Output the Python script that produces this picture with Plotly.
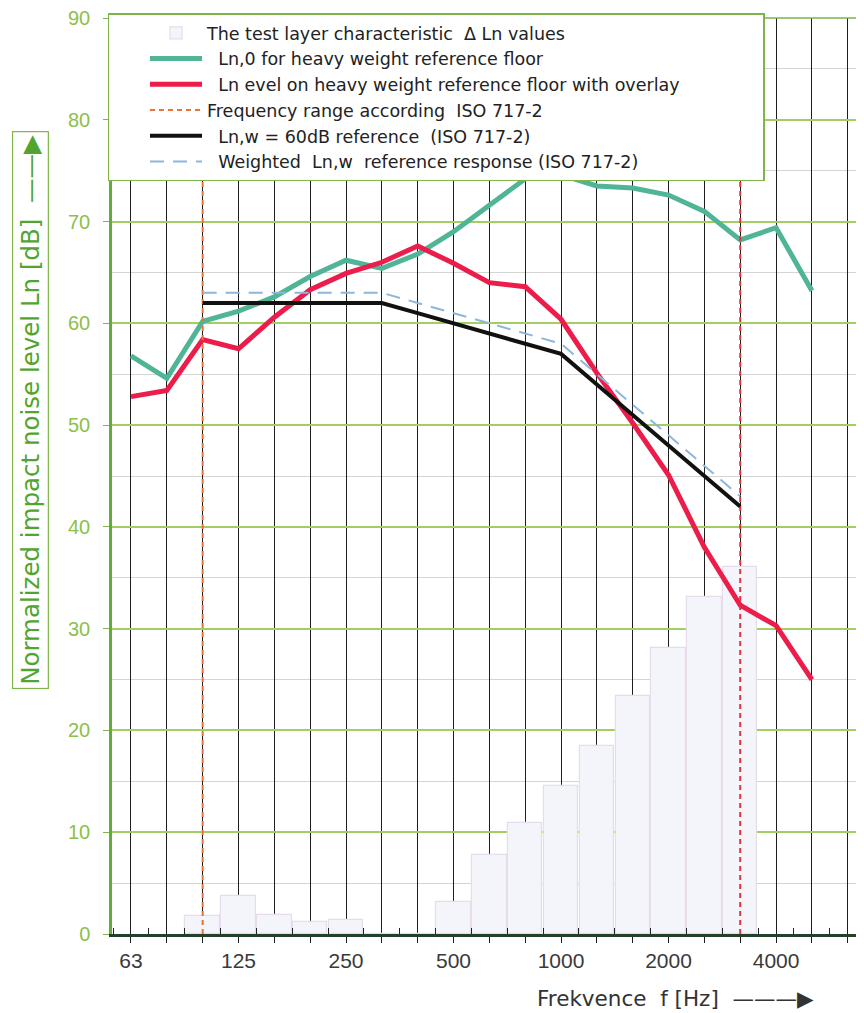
import plotly.graph_objects as go

# 1/3-octave band centre frequencies (Hz)
bands = ["63", "80", "100", "125", "160", "200", "250", "315", "400", "500",
         "630", "800", "1000", "1250", "1600", "2000", "2500", "3150", "4000", "5000"]
labelled_bands = ["63", "125", "250", "500", "1000", "2000", "4000"]

# Ln,0 for heavy weight reference floor
ln0 = [56.8, 54.6, 60.2, 61.2, 62.6, 64.6, 66.2, 65.4, 66.8, 69.0,
       71.6, 74.2, 74.6, 73.5, 73.3, 72.6, 71.0, 68.2, 69.4, 63.2]
# Ln on heavy weight reference floor with overlay
ln_overlay = [52.8, 53.4, 58.4, 57.5, 60.6, 63.3, 64.9, 66.0, 67.6, 65.9,
              64.0, 63.6, 60.4, 55.1, 50.2, 45.1, 38.0, 32.3, 30.3, 25.0]
# Delta Ln of the test layer
delta_ln = [None, None, 1.8, 3.7, 1.9, 1.2, 1.4, 0, 0, 3.1,
            7.8, 10.9, 14.5, 18.5, 23.4, 28.1, 33.1, 36.1, None, None]
# Reference curve Ln,w = 60 dB (ISO 717-2)
ref_60 = [None, None, 62, 62, 62, 62, 62, 62, 61, 60,
          59, 58, 57, 54, 51, 48, 45, 42, None, None]
# Weighted reference response
ref_weighted = [None, None, 63, 63, 63, 63, 63, 63, 62, 61,
                60, 59, 58, 55, 52, 49, 46, 43, None, None]
# Frequency range according to ISO 717-2
range_lo, range_hi = "100", "3150"
y_max = 90

pos = list(range(len(bands)))
idx = {b: i for i, b in enumerate(bands)}
nb = "\u00a0"

fig = go.Figure()

bx = [p for p, v in zip(pos, delta_ln) if v is not None]
by = [v for v in delta_ln if v is not None]
fig.add_trace(go.Bar(
    x=bx, y=by, width=0.96,
    marker=dict(color="#F4F4FB", line=dict(color="#E6DCEA", width=1.2)),
    name="The test layer characteristic" + nb * 2 + "\u0394 Ln values",
))
fig.add_trace(go.Scatter(
    x=pos, y=ln0, mode="lines", line=dict(color="#50B596", width=5),
    name=nb * 2 + "Ln,0 for heavy weight reference floor",
))
fig.add_trace(go.Scatter(
    x=pos, y=ln_overlay, mode="lines", line=dict(color="#EC1C4B", width=5),
    name=nb * 2 + "Ln evel on heavy weight reference floor with overlay" + nb * 14,
))
fig.add_trace(go.Scatter(
    x=[idx[range_lo], idx[range_lo]], y=[0, y_max], mode="lines",
    line=dict(color="#E8743A", width=2, dash="5px,4px"),
    name="Frequency range according" + nb * 2 + "ISO 717-2",
))
fig.add_trace(go.Scatter(
    x=[idx[range_hi], idx[range_hi]], y=[0, y_max], mode="lines",
    line=dict(color="#D9363E", width=2, dash="5px,4px"),
    showlegend=False,
))
fig.add_trace(go.Scatter(
    x=pos, y=ref_60, mode="lines", line=dict(color="#111111", width=4),
    name=nb * 2 + "Ln,w = 60dB reference" + nb * 2 + "(ISO 717-2)",
))
fig.add_trace(go.Scatter(
    x=pos, y=ref_weighted, mode="lines",
    line=dict(color="#8DB6DC", width=2, dash="14px,9px"),
    name=nb * 2 + "Weighted" + nb * 2 + "Ln,w" + nb * 2 + "reference response (ISO 717-2)",
))

ticktext = [b if b in labelled_bands else "" for b in bands] + [""]

fig.update_layout(
    width=856, height=1005,
    margin=dict(l=104, r=3, t=10, b=79, autoexpand=False),
    paper_bgcolor="white", plot_bgcolor="white",
    font=dict(family="Liberation Sans, Arial, sans-serif", color="#333"),
    showlegend=True,
    legend=dict(
        x=-0.006, y=1.005, xanchor="left", yanchor="top",
        bgcolor="white", bordercolor="#7DB54A", borderwidth=1.5,
        font=dict(size=17.5, color="#222", family="DejaVu Sans, sans-serif"),
        itemwidth=52, indentation=36, tracegroupgap=0, traceorder="normal",
    ),
    bargap=0,
    xaxis=dict(
        range=[-0.53, 20.37], tickmode="array",
        tickvals=list(range(len(bands) + 1)), ticktext=ticktext,
        showgrid=True, gridcolor="#1e1e1e", gridwidth=1.4,
        ticks="outside", ticklen=6, tickcolor="#1e1e1e", tickwidth=1.4,
        tickfont=dict(size=21, color="#3a3a3a"),
        showline=True, linecolor="#24402a", linewidth=2.5,
        zeroline=False,
        minor=dict(tickmode="array", tickvals=[i + 0.5 for i in range(-1, 21)],
                   ticks="inside", ticklen=6, tickcolor="#222", tickwidth=1.2,
                   showgrid=False),
    ),
    yaxis=dict(
        range=[0, y_max], tickmode="linear", tick0=0, dtick=10,
        showgrid=True, gridcolor="#A3CE62", gridwidth=1.5,
        ticks="outside", ticklen=6, tickcolor="#7DB54A",
        tickfont=dict(size=20, color="#8CC04A"), ticklabelstandoff=9,
        ticklabeloverflow="allow",
        showline=True, linecolor="#5FAE3A", linewidth=2.5, mirror=True,
        zeroline=False,
        minor=dict(dtick=5, showgrid=True, gridcolor="#D4D4D4", gridwidth=1),
    ),
    shapes=[dict(type="line", xref="paper", yref="paper", x0=0, x1=1, y0=1, y1=1,
                 line=dict(color="#7DB54A", width=1.5))],
    annotations=[
        dict(text="Normalized impact noise level Ln [dB]" + nb * 2 + "\u2014\u2014\u25B6",
             xref="paper", yref="paper", x=0, y=0.572, xshift=-82,
             xanchor="center", yanchor="middle", textangle=-90, showarrow=False,
             font=dict(size=24.5, color="#4FA52F", family="DejaVu Sans, sans-serif"),
             bordercolor="#7DB54A", borderwidth=1.2, borderpad=3, bgcolor="white"),
        dict(text="Frekvence" + nb * 2 + "f [Hz]" + nb * 2 + "\u2014\u2014\u2014\u25B6",
             xref="paper", yref="paper", x=0.752, y=-0.070,
             xanchor="center", yanchor="middle", showarrow=False,
             font=dict(size=21.5, color="#333", family="DejaVu Sans, sans-serif")),
    ],
)

fig.write_html("out.html")
